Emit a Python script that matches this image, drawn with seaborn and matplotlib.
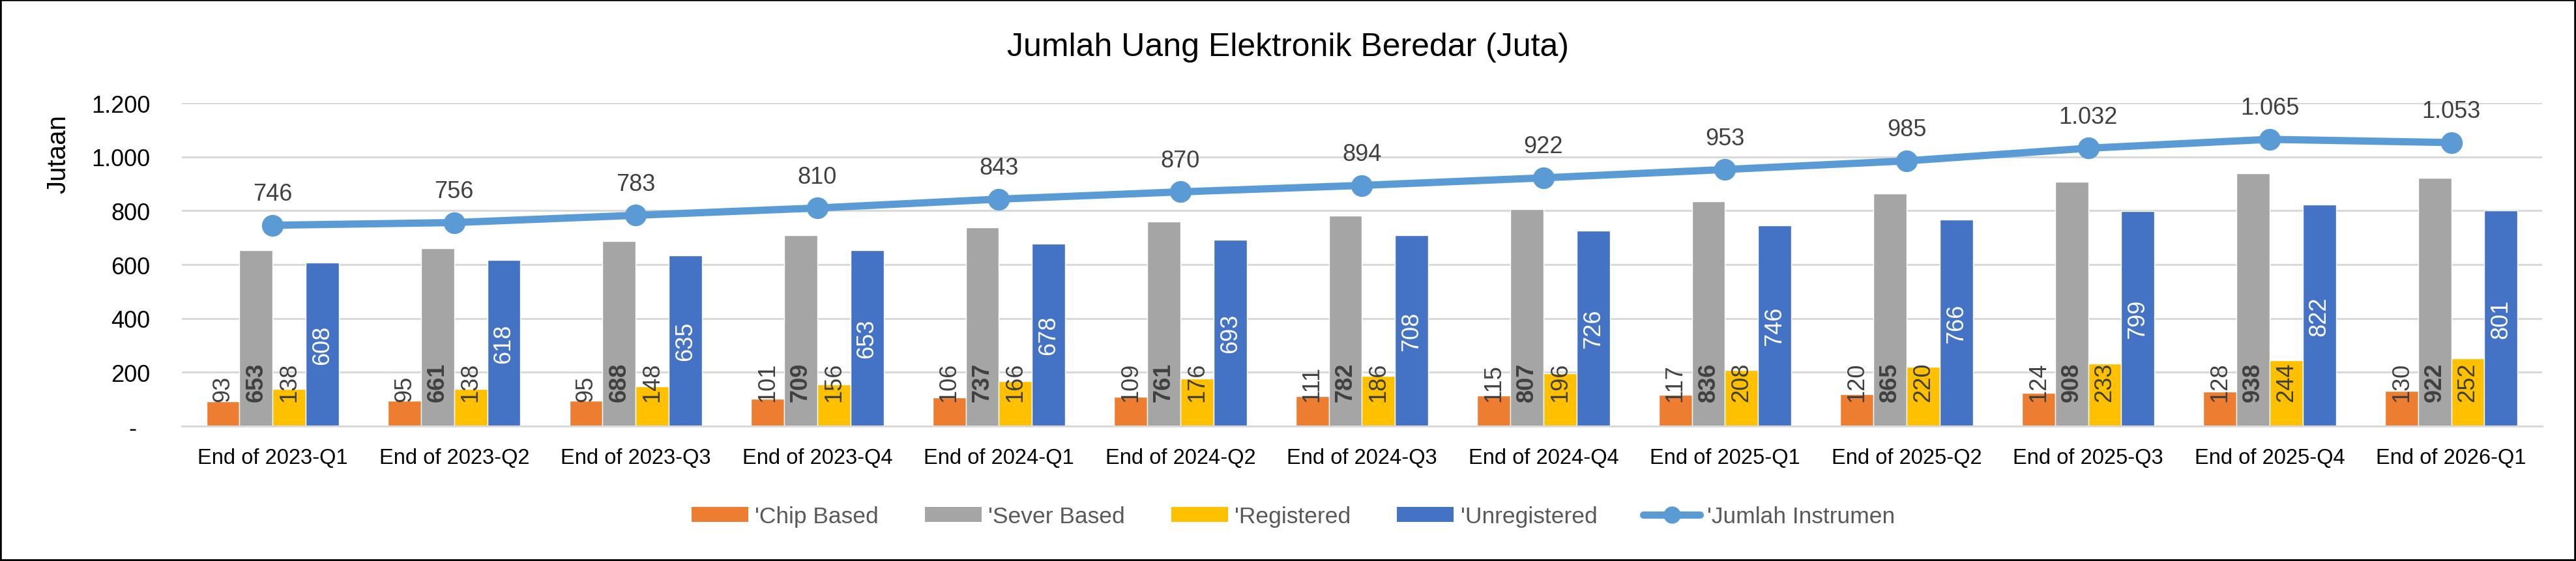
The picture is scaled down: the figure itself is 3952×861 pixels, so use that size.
import matplotlib
matplotlib.use("Agg")
import matplotlib.pyplot as plt
from matplotlib.patches import Patch, Rectangle
from matplotlib.lines import Line2D
from matplotlib.ticker import FuncFormatter
import seaborn as sns
import pandas as pd

quarters = ["End of 2023-Q1", "End of 2023-Q2", "End of 2023-Q3", "End of 2023-Q4",
            "End of 2024-Q1", "End of 2024-Q2", "End of 2024-Q3", "End of 2024-Q4",
            "End of 2025-Q1", "End of 2025-Q2", "End of 2025-Q3", "End of 2025-Q4",
            "End of 2026-Q1"]
chip_based = [93, 95, 95, 101, 106, 109, 111, 115, 117, 120, 124, 128, 130]
sever_based = [653, 661, 688, 709, 737, 761, 782, 807, 836, 865, 908, 938, 922]
registered = [138, 138, 148, 156, 166, 176, 186, 196, 208, 220, 233, 244, 252]
unregistered = [608, 618, 635, 653, 678, 693, 708, 726, 746, 766, 799, 822, 801]
jumlah_instrumen = [746, 756, 783, 810, 843, 870, 894, 922, 953, 985, 1032, 1065, 1053]

series_names = ["'Chip Based", "'Sever Based", "'Registered", "'Unregistered"]
line_name = "'Jumlah Instrumen"
colors = ["#ED7D31", "#A5A5A5", "#FFC000", "#4472C4"]
line_color = "#5B9BD5"
label_color = "#404040"


def fmt(v):
    return f"{v:,.0f}".replace(",", ".")


wide = pd.DataFrame({"Kuartal": quarters,
                     series_names[0]: chip_based,
                     series_names[1]: sever_based,
                     series_names[2]: registered,
                     series_names[3]: unregistered})
df = wide.melt(id_vars="Kuartal", var_name="Seri", value_name="Nilai")

sns.set_theme(style="white")
plt.rcParams["font.family"] = ["Liberation Sans", "DejaVu Sans"]

fig = plt.figure(figsize=(39.52, 8.62), dpi=100)
ax = fig.add_axes([0.0706, 0.240, 0.9162, 0.5755])

sns.barplot(data=df, x="Kuartal", y="Nilai", hue="Seri", palette=colors,
            width=0.73, gap=0, saturation=1, legend=False, ax=ax)
sns.pointplot(x=quarters, y=jumlah_instrumen, color=line_color, markers="o",
              linestyles="-", markersize=18, linewidth=8, errorbar=None, ax=ax)

# label batang
for k, cont in enumerate(ax.containers[:4]):
    for bar in cont:
        x = bar.get_x() + bar.get_width() / 2
        h = bar.get_height()
        if k == 3:
            ax.text(x, h / 2, fmt(h), rotation=90, ha="center", va="center",
                    color="white", fontsize=26)
        else:
            ax.text(x, 92, fmt(h), rotation=90, ha="center", va="bottom",
                    color=label_color, fontsize=26,
                    fontweight="bold" if k == 1 else "normal")

for i, v in enumerate(jumlah_instrumen):
    ax.annotate(fmt(v), (i, v), xytext=(0, 22), textcoords="offset points",
                ha="center", va="bottom", color=label_color, fontsize=26)

ax.set_ylim(0, 1200)
ax.set_yticks(range(0, 1201, 200))
ax.yaxis.set_major_formatter(FuncFormatter(lambda v, p: "-  " if v == 0 else fmt(v)))
ax.grid(axis="y", color="#D9D9D9", linewidth=2.2)
ax.set_axisbelow(True)
for s in ["top", "right", "left"]:
    ax.spines[s].set_visible(False)
ax.spines["bottom"].set_color("#D9D9D9")
ax.spines["bottom"].set_linewidth(2.2)
ax.tick_params(axis="both", length=0, colors="black")
ax.tick_params(axis="x", pad=24, labelsize=23.5)
ax.tick_params(axis="y", pad=35, labelsize=26)
ax.set_xlabel("")
ax.set_ylabel("")

fig.text(0.0225, 0.726, "Jutaan", rotation=90, ha="center", va="center",
         fontsize=29, color="black")
fig.text(0.5, 0.915, "Jumlah Uang Elektronik Beredar (Juta)", ha="center",
         va="center", fontsize=36, color="black")

handles = [Patch(facecolor=c, edgecolor="none") for c in colors]
handles.append(Line2D([], [], color=line_color, lw=8, marker="o", markersize=18))
leg = fig.legend(handles, series_names + [line_name], loc="center",
                 bbox_to_anchor=(0.502, 0.080), ncol=5, frameon=False,
                 fontsize=25.5, handlelength=2.45, handleheight=0.62,
                 handletextpad=0.3, columnspacing=2.0)
for t in leg.get_texts():
    t.set_color("#595959")

fig.patches.append(Rectangle((0, 0), 1, 1, transform=fig.transFigure,
                             fill=False, edgecolor="black", linewidth=4))

fig.savefig("out.png", dpi=100)
